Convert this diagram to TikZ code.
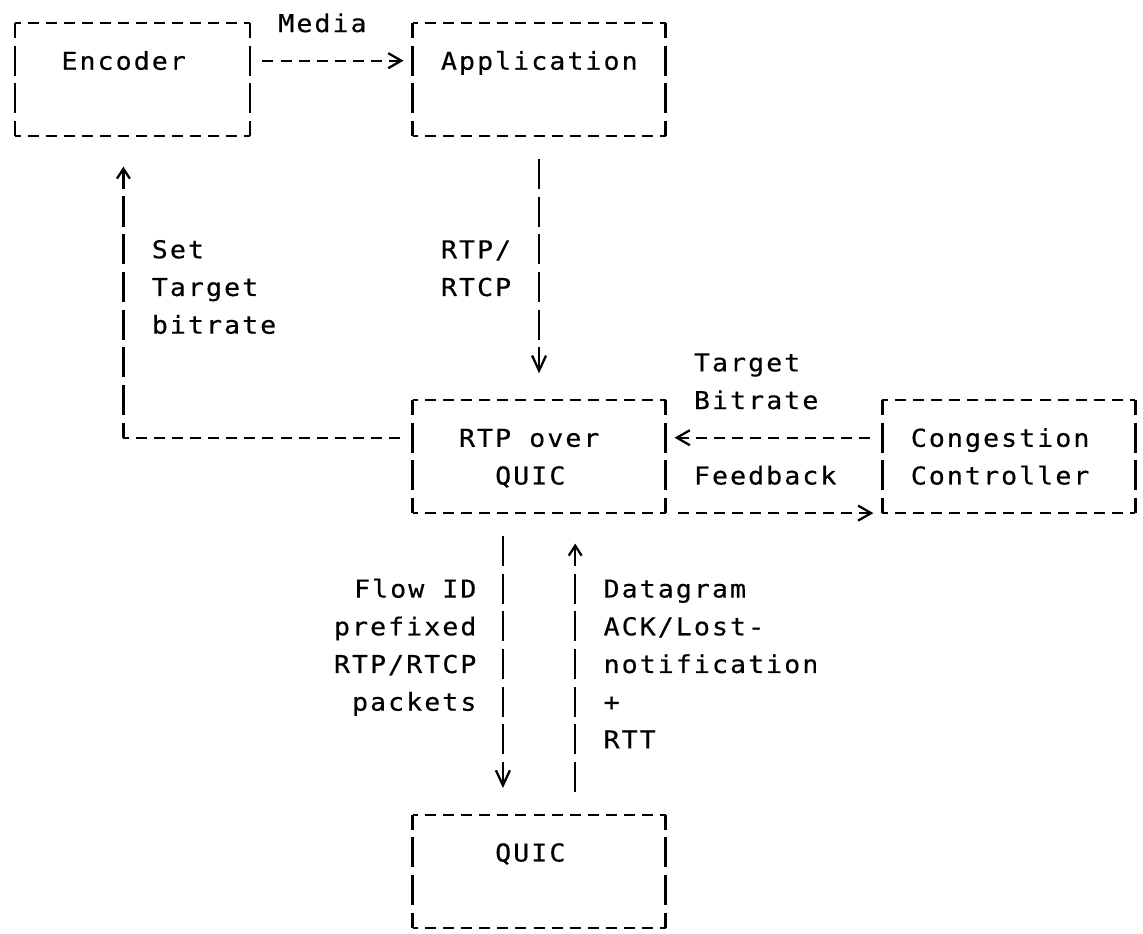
\documentclass[tikz,border=0pt]{standalone}
\usepackage{fontspec}
\usetikzlibrary{arrows.meta}
\newfontfamily\asciifont[LetterSpace=8.4, FakeStretch=1.08, FakeBold=0.4]{DejaVu Sans Mono}

\begin{document}
\begin{tikzpicture}[x=0.3614cm, y=-0.754cm,
    box/.style={minimum width=5.0596cm, minimum height=2.262cm, inner sep=0pt, outer sep=0pt},
    txt/.style={font=\asciifont\fontsize{14pt}{17pt}\selectfont, inner sep=0pt, anchor=base west, xshift=0.55pt},
    txtr/.style={txt, anchor=base east},
    hline/.style={line width=1.3pt, dash pattern=on 0.22cm off 0.1414cm, dash phase=0.11cm},
    vline/.style={line width=1.3pt, dash pattern=on 0.6cm off 0.154cm, dash phase=0.3cm},
    hlink/.style={hline, dash phase=0.2907cm, shorten <=0.1807cm},
    vlink/.style={vline, dash phase=0.677cm, shorten <=0.377cm},
    rtip/.style={-{Straight Barb[length=0.26cm, width=0.3cm]}, shorten >=0.1807cm},
    dtip/.style={-{Straight Barb[length=0.3cm, width=0.28cm]}, shorten >=0.535cm},
    utip/.style={-{Straight Barb[length=0.2cm, width=0.26cm]}, shorten >=0.61cm}]

\useasboundingbox (-0.83,-0.61) rectangle (62.42,24.16);

% Boxes
\node[box, minimum width=4.698cm] (enc) at (6.5,1.5) {};
\node[box] (app) at (29,1.5) {};
\node[box] (rtp) at (29,11.5) {};
\node[box] (cc) at (55,11.5) {};
\node[box] (quic) at (29,22.5) {};

\foreach \b in {enc,app,rtp,cc,quic}
{
    \draw[hline] (\b.north west) -- (\b.north east);
    \draw[hline] (\b.south west) -- (\b.south east);
    \draw[vline] (\b.north west) -- (\b.south west);
    \draw[vline] (\b.north east) -- (\b.south east);
}

\node[txt] (enctxt) at (2.5,1.24) {Encoder};
\node[txt] (apptxt) at (23.5,1.24) {Application};
\node[txt] (rtptxt) at (24.5,11.24) {RTP over};
\node[txt] (rtptxtb) at (26.5,12.24) {QUIC};
\node[txt] (cctxt) at (49.5,11.24) {Congestion};
\node[txt] (cctxtb) at (49.5,12.24) {Controller};
\node[txt] (quictxt) at (26.5,22.24) {QUIC};

% Media
\node[txt] (media) at (14.5,0.24) {Media};
\draw[hlink, rtip] (enc.east |- 0,1) -- (app.west |- 0,1);

% RTP/RTCP
\draw[vlink, dtip] (app.south) -- (rtp.north);
\foreach \t [count=\i from 6] in {RTP/,RTCP}
    \node[txt] (rtplbl\i) at (23.5,\i+0.24) {\t};

% Set target bitrate
\coordinate (setpt) at (6,11);
\draw[hlink] (rtp.west |- setpt) -- (setpt);
\draw[vline, utip] (setpt) -- (setpt |- enc.south);
\foreach \t [count=\i from 6] in {Set,Target,bitrate}
    \node[txt] (setlbl\i) at (7.5,\i+0.24) {\t};

% Target bitrate and feedback
\draw[hlink, rtip] (cc.west |- 0,11) -- (rtp.east |- 0,11);
\draw[hlink, rtip] (rtp.south east) -- (cc.south west);
\node[txt] (tblbl) at (37.5,9.24) {Target};
\node[txt] (tblblb) at (37.5,10.24) {Bitrate};
\node[txt] (fblbl) at (37.5,12.24) {Feedback};

% QUIC
\draw[vlink, dtip] (27,0 |- rtp.south) -- (27,0 |- quic.north);
\draw[vlink, utip] (31,0 |- quic.north) -- (31,0 |- rtp.south);
\foreach \t [count=\i from 15] in {Flow ID,prefixed,RTP/RTCP,packets}
    \node[txtr] (flowlbl\i) at (25.5,\i+0.24) {\t};
\foreach \t [count=\i from 15] in {Datagram,ACK/Lost-,notification,+,RTT}
    \node[txt] (acklbl\i) at (32.5,\i+0.24) {\t};

\end{tikzpicture}
\end{document}
